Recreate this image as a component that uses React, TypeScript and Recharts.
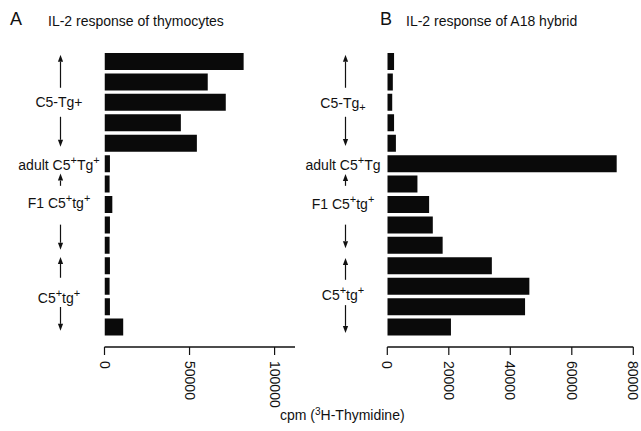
import React from 'react'
import { BarChart, Bar, XAxis, YAxis } from 'recharts'

// one row per mouse, top to bottom
const rows = [
  'C5-Tg+ 1', 'C5-Tg+ 2', 'C5-Tg+ 3', 'C5-Tg+ 4', 'C5-Tg+ 5',
  'adult C5+Tg+',
  'F1 C5+tg+ 1', 'F1 C5+tg+ 2', 'F1 C5+tg+ 3', 'F1 C5+tg+ 4',
  'C5+tg+ 1', 'C5+tg+ 2', 'C5+tg+ 3', 'C5+tg+ 4',
]

// cpm, panel A (thymocytes) and panel B (A18 hybrid)
const thymocytes = [81800, 60700, 71300, 44900, 54300, 3200, 3000, 4600, 3200, 3000, 3200, 3000, 3200, 11000]
const hybrid = [2200, 1800, 1600, 2200, 2800, 74600, 9800, 13600, 14800, 18000, 34000, 46200, 44800, 20700]

const ticksA = [0, 50000, 100000]
const ticksB = [0, 20000, 40000, 60000, 80000]

// group labels down the left side; '^' = superscript, '_' = subscript
type Part = [string, number]
interface Group {
  row: number
  at: number
  parts: Part[]
  arrows: [number, number][]
}

const groupsA: Group[] = [
  { row: 2, at: 2.0, parts: [['C5-Tg+', 0]], arrows: [[1.3, -0.32], [2.72, 4.19]] },
  { row: 5, at: 5.07, parts: [['adult C5', 0], ['+', 1], ['Tg', 0], ['+', 1]], arrows: [] },
  { row: 7, at: 6.95, parts: [['F1 C5', 0], ['+', 1], ['tg', 0], ['+', 1]], arrows: [[6.1, 5.5], [8.0, 9.23]] },
  { row: 12, at: 11.6, parts: [['C5', 0], ['+', 1], ['tg', 0], ['+', 1]], arrows: [[10.6, 9.58], [12.03, 13.2]] },
]

const groupsB: Group[] = [
  { row: 2, at: 2.05, parts: [['C5-Tg', 0], ['+', -1]], arrows: [[1.3, -0.32], [2.72, 4.15]] },
  { row: 5, at: 5.07, parts: [['adult C5', 0], ['+', 1], ['Tg', 0]], arrows: [] },
  { row: 7, at: 7.0, parts: [['F1 C5', 0], ['+', 1], ['tg', 0], ['+', 1]], arrows: [[6.1, 5.52], [8.0, 9.15]] },
  { row: 11, at: 11.45, parts: [['C5', 0], ['+', 1], ['tg', 0], ['+', 1]], arrows: [[10.7, 9.63], [11.94, 13.3]] },
]

const dataA = rows.map((name, i) => ({ name, cpm: thymocytes[i] }))
const dataB = rows.map((name, i) => ({ name, cpm: hybrid[i] }))

const FONT = '"Liberation Sans", Arial, Helvetica, sans-serif'
const INK = '#111'
const TOP = 51
const AXIS_Y = 347
const PAD_BOTTOM = 10
const PITCH = (AXIS_Y - TOP - PAD_BOTTOM) / rows.length

const Label = ({ x, y, parts }: { x: number; y: number; parts: Part[] }) => {
  let prev = 0
  return (
    <text x={x} y={y} textAnchor='middle' fontSize={14} fill={INK} fontFamily={FONT}>
      {parts.map(([t, k], i) => {
        const shift = k === 1 ? -6 : k === -1 ? 3 : 0
        const dy = shift - prev
        prev = shift
        return (
          <tspan key={i} dy={dy} fontSize={k === 0 ? 14 : 11}>
            {t}
          </tspan>
        )
      })}
    </text>
  )
}

const Arrow = ({ x, from, to }: { x: number; from: number; to: number }) => {
  const dir = to > from ? 1 : -1
  const base = to - dir * 7
  return (
    <g>
      <line x1={x} y1={from} x2={x} y2={base} stroke={INK} strokeWidth={1.2} />
      <polygon points={`${x},${to} ${x - 2.6},${base} ${x + 2.6},${base}`} fill={INK} />
    </g>
  )
}

const makeGroupTick = (groups: Group[], labelX: number, arrowX: number) => (props: any) => {
  const { y, index } = props
  const items = groups.filter((g) => g.row === index)
  if (!items.length) return <g />
  const at = (u: number) => y + (u - index) * PITCH
  return (
    <g>
      {items.map((g, i) => (
        <g key={i}>
          <Label x={labelX} y={at(g.at) + 5} parts={g.parts} />
          {g.arrows.map(([a, b], j) => (
            <Arrow key={j} x={arrowX} from={at(a)} to={at(b)} />
          ))}
        </g>
      ))}
    </g>
  )
}

const RotTick = (props: any) => {
  const { x, y, payload } = props
  return (
    <text
      transform={`translate(${x},${y}) rotate(90)`}
      textAnchor='start'
      dominantBaseline='central'
      fontSize={14}
      fill={INK}
      fontFamily={FONT}
    >
      {payload.value}
    </text>
  )
}

interface PanelProps {
  data: { name: string; cpm: number }[]
  left: number
  width: number
  yWidth: number
  marginLeft: number
  marginRight: number
  domainMax: number
  ticks: number[]
  groups: Group[]
  labelX: number
  arrowX: number
}

const Panel: React.FC<PanelProps> = ({
  data, left, width, yWidth, marginLeft, marginRight, domainMax, ticks, groups, labelX, arrowX,
}) => (
  <div style={{ position: 'absolute', left, top: 0 }}>
    <BarChart
      width={width}
      height={431}
      data={data}
      layout='vertical'
      margin={{ top: TOP, right: marginRight, bottom: 0, left: marginLeft }}
    >
      <XAxis
        type='number'
        domain={[0, domainMax]}
        ticks={ticks}
        interval={0}
        height={431 - AXIS_Y}
        axisLine={{ stroke: INK, strokeWidth: 1.5 }}
        tickLine={{ stroke: INK, strokeWidth: 1.2 }}
        tickSize={8}
        tickMargin={6}
        tick={<RotTick />}
        allowDataOverflow
      />
      <YAxis
        type='category'
        dataKey='name'
        width={yWidth}
        padding={{ top: 0, bottom: PAD_BOTTOM }}
        axisLine={false}
        tickLine={false}
        interval={0}
        tick={makeGroupTick(groups, labelX, arrowX)}
      />
      <Bar dataKey='cpm' fill='#0a0a0a' barSize={17} isAnimationActive={false} />
    </BarChart>
  </div>
)

export default function App() {
  return (
    <div
      style={{
        position: 'absolute',
        left: 0,
        top: 0,
        width: 641,
        height: 431,
        background: '#fff',
        overflow: 'hidden',
        fontFamily: FONT,
      }}
    >
      <Panel
        data={dataA}
        left={0}
        width={320}
        yWidth={104}
        marginLeft={0.5}
        marginRight={25}
        domainMax={112000}
        ticks={ticksA}
        groups={groupsA}
        labelX={59}
        arrowX={60.5}
      />
      <Panel
        data={dataB}
        left={287}
        width={354}
        yWidth={100}
        marginLeft={0.3}
        marginRight={7.7}
        domainMax={80000}
        ticks={ticksB}
        groups={groupsB}
        labelX={56}
        arrowX={58.5}
      />
      <svg
        width={641}
        height={431}
        style={{ position: 'absolute', left: 0, top: 0, pointerEvents: 'none' }}
        fontFamily={FONT}
        fill={INK}
      >
        <text x={10} y={25} fontSize={18}>A</text>
        <text x={48} y={26} fontSize={14}>IL-2 response of thymocytes</text>
        <text x={380} y={25} fontSize={18}>B</text>
        <text x={406} y={26} fontSize={14}>IL-2 response of A18 hybrid</text>
        <text x={280} y={420} fontSize={14}>
          cpm (<tspan dy={-5} fontSize={10}>3</tspan>
          <tspan dy={5}>H-Thymidine)</tspan>
        </text>
      </svg>
    </div>
  )
}
